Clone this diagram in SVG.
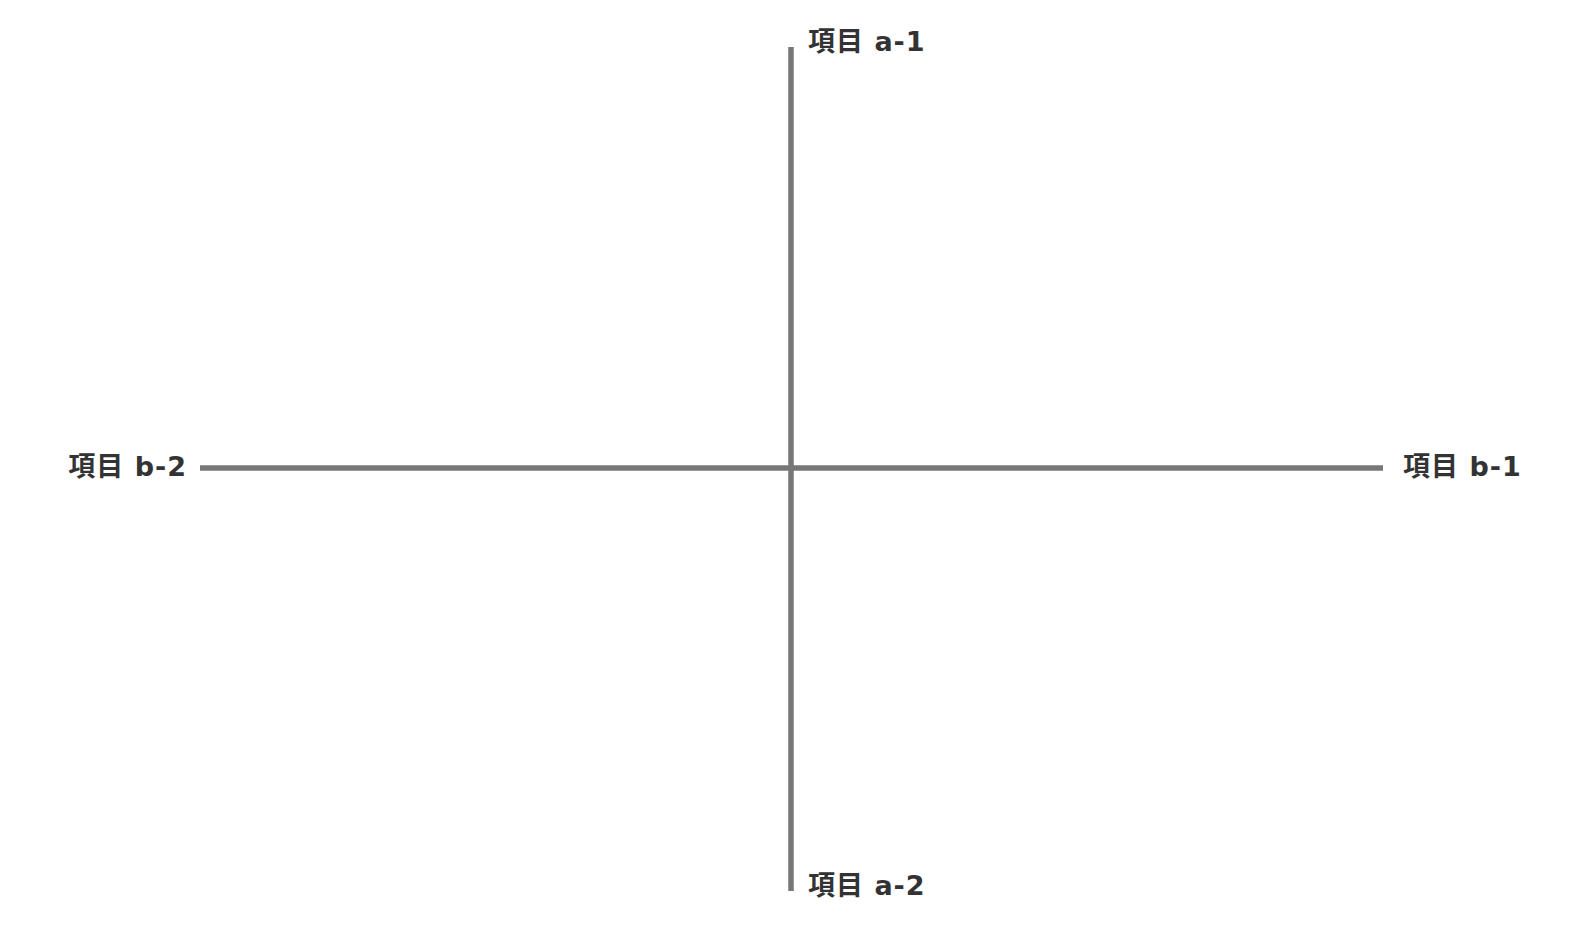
<svg xmlns="http://www.w3.org/2000/svg" width="1584" height="938" viewBox="0 0 1584 938">
<style>
.axis{stroke:#777777;stroke-width:5.5;fill:none}
.lbl{font-family:"DejaVu Sans","Noto Sans CJK JP",sans-serif;font-weight:bold;font-size:27px;letter-spacing:1px;fill:#333333}
</style>
<rect width="1584" height="938" fill="#ffffff"/>
<g id="connectors">
<line class="axis" x1="791" y1="47" x2="791" y2="891"/>
<line class="axis" x1="200" y1="468" x2="1383" y2="468"/>
</g>
<g id="a-1"><text class="lbl" x="808" y="51">項目 a-1</text></g>
<g id="a-2"><text class="lbl" x="808" y="895">項目 a-2</text></g>
<g id="b-2"><text class="lbl" x="187" y="476" text-anchor="end">項目 b-2</text></g>
<g id="b-1"><text class="lbl" x="1403" y="476">項目 b-1</text></g>
</svg>
